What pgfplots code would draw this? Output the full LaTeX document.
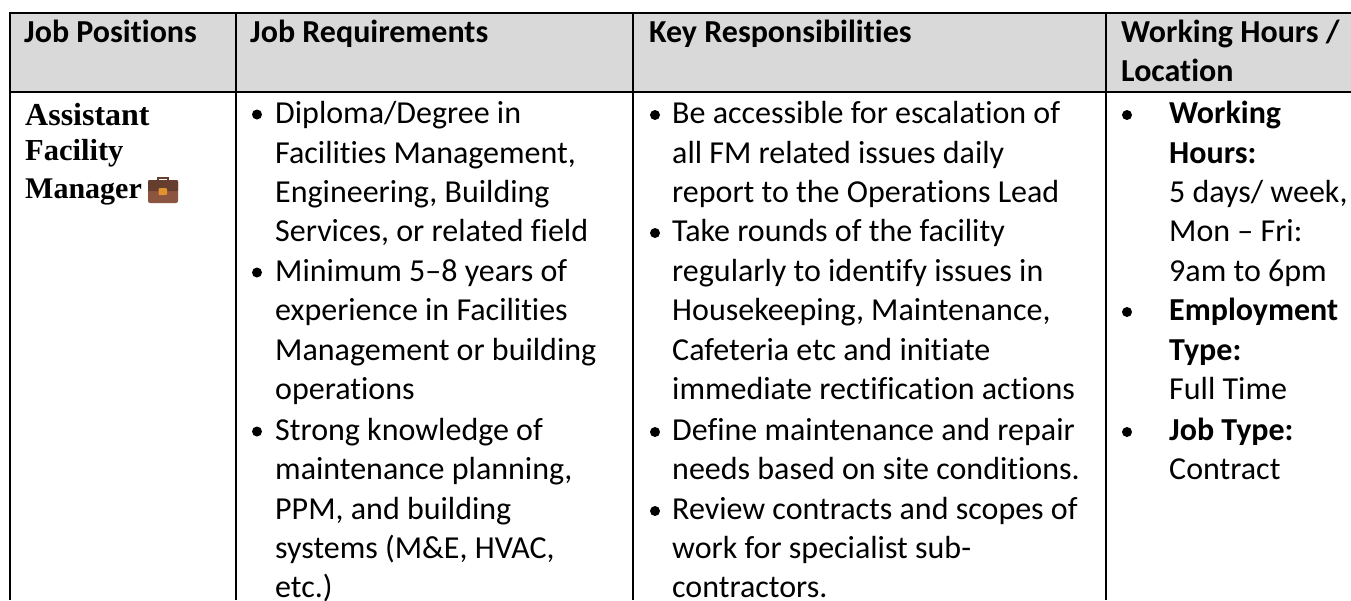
\documentclass[border=0pt]{standalone}
\usepackage{fontspec}
\setmainfont{Carlito}[Ligatures=NoCommon]
\newfontfamily\serifb{Liberation Serif}
\usepackage{pgfplots}
\pgfplotsset{compat=1.18}
\definecolor{hdr}{HTML}{D9D9D9}
\newcommand{\T}[3]{\node[anchor=base west,inner sep=0pt,text=black,font=\fontsize{32pt}{32pt}\selectfont] at (axis cs:#1,#2) {#3};}
\newcommand{\B}[2]{\fill[black] (axis cs:#1,#2) circle (5pt);}
\newcommand{\SB}[4]{\node[anchor=base west,inner sep=0pt,font=\fontsize{#4pt}{#4pt}\selectfont\serifb\bfseries] at (axis cs:#1,#2) {#3};}
\begin{document}
\begin{tikzpicture}
\begin{axis}[scale only axis,width=1351pt,height=600pt,xmin=0,xmax=1351,ymin=0,ymax=600,y dir=reverse,hide axis,clip=true]
\addplot[fill=white,draw=none] coordinates {(0,0)(1351,0)(1351,600)(0,600)} --cycle;
\addplot[fill=hdr,draw=none] coordinates {(10,12)(1351,12)(1351,91)(10,91)} --cycle;
\addplot[black,line width=2pt] coordinates {(9,12.5)(1351,12.5)};
\addplot[black,line width=2pt] coordinates {(9,91.5)(1351,91.5)};
\addplot[black,line width=2pt] coordinates {(10,12)(10,600)};
\addplot[black,line width=2pt] coordinates {(236,12)(236,600)};
\addplot[black,line width=2pt] coordinates {(632.5,12)(632.5,600)};
\addplot[black,line width=2pt] coordinates {(1106,12)(1106,600)};
% header
\T{24}{42}{\bfseries Job Positions}
\T{250}{42}{\bfseries Job Requirements}
\T{649}{42}{\bfseries Key Responsibilities}
\T{1121}{42}{\bfseries Working Hours /}
\T{1121}{81}{\bfseries Location}
% col 1
\SB{25}{125}{Assistant}{32}
\SB{25}{160}{Facility}{30.5}
\SB{25}{198}{Manager}{30}
\fill[rounded corners=2pt,fill={rgb,255:red,139;green,85;blue,64}] (axis cs:148,180) rectangle (axis cs:178,203);
\fill[rounded corners=1pt,fill={rgb,255:red,101;green,62;blue,47}] (axis cs:148,180) rectangle (axis cs:178,191);
\draw[line width=2pt,color={rgb,255:red,101;green,62;blue,47}] (axis cs:158,181) -- (axis cs:158,177.5) -- (axis cs:167.5,177.5) -- (axis cs:167.5,181);
\fill[rounded corners=1pt,fill={rgb,255:red,226;green,146;blue,45}] (axis cs:158.5,188) rectangle (axis cs:167,195);
% col 2
\B{257}{114.5}\T{275}{123.5}{Diploma/Degree in}
\T{275}{163}{Facilities Management,}
\T{275}{202}{Engineering, Building}
\T{275}{241.5}{Services, or related field}
\B{257}{272.5}\T{275}{281.5}{Minimum 5–8 years of}
\T{275}{320}{experience in Facilities}
\T{275}{360.5}{Management or building}
\T{275}{399.5}{operations}
\B{257}{431.5}\T{275}{440}{Strong knowledge of}
\T{275}{479}{maintenance planning,}
\T{275}{519}{PPM, and building}
\T{275}{558}{systems (M\&E, HVAC,}
\T{275}{597}{etc.)}
% col 3
\B{655}{115}\T{672}{123.5}{Be accessible for escalation of}
\T{672}{163}{all FM related issues daily}
\T{672}{202}{report to the Operations Lead}
\B{655}{233}\T{672}{241.5}{Take rounds of the facility}
\T{672}{281.5}{regularly to identify issues in}
\T{672}{320}{Housekeeping, Maintenance,}
\T{672}{360.5}{Cafeteria etc and initiate}
\T{672}{399.5}{immediate rectification actions}
\B{655}{432}\T{672}{440}{Define maintenance and repair}
\T{672}{479}{needs based on site conditions.}
\B{655}{511}\T{672}{519}{Review contracts and scopes of}
\T{672}{558}{work for specialist sub-}
\T{672}{597}{contractors.}
% col 4
\B{1127}{115}\T{1169}{123.5}{\bfseries Working}
\T{1169}{163}{\bfseries Hours:}
\T{1169}{202}{5 days/ week,}
\T{1169}{241.5}{Mon – Fri:}
\T{1169}{281.5}{9am to 6pm}
\B{1127}{312}\T{1169}{320}{\bfseries Employment}
\T{1169}{360.5}{\bfseries Type:}
\T{1169}{399.5}{Full Time}
\B{1127}{432}\T{1169}{440}{\bfseries Job Type:}
\T{1169}{479}{Contract}
\end{axis}
\end{tikzpicture}
\end{document}
